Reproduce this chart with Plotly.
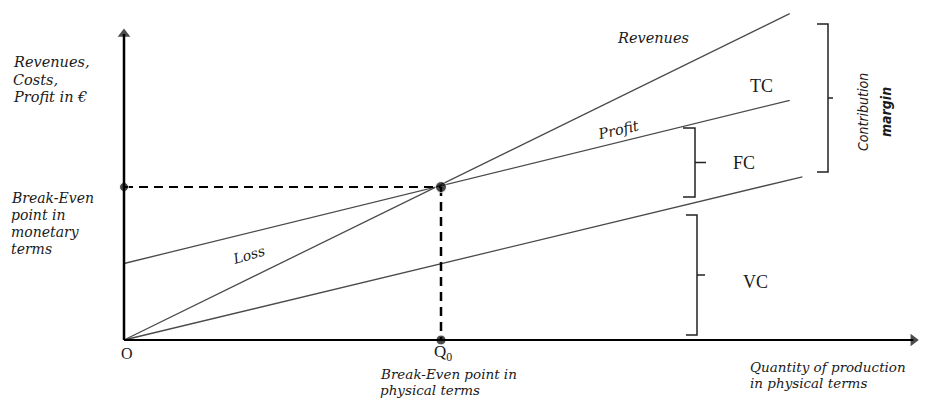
import plotly.graph_objects as go

# Break-even chart values (quantity on x, money in € on y)
rev_q = [0, 21.0]
rev_v = [0, 64.0]
tc_q = [0, 21.0]
tc_v = [15.0, 47.0]
vc_q = [0, 21.4]
vc_v = [0, 32.0]
q0 = 10.0
be_value = 30.0

# axis extents
x_axis_end = 24.9
y_axis_end = 60.0

W, H = 930, 398
LINE = "#4a4a4a"
TXT = "#1a1a1a"
SERIF_IT = "DejaVu Serif"


def paper(x, y):
    # pixel position -> paper coordinates (margins are zero)
    return x / W, 1 - y / H


fig = go.Figure()

# cost / revenue lines
for q, v in [(rev_q, rev_v), (tc_q, tc_v), (vc_q, vc_v)]:
    fig.add_trace(go.Scatter(x=q, y=v, mode="lines", line=dict(color=LINE, width=1.3),
                             hoverinfo="skip", showlegend=False))

# dashed guides to the break-even point
fig.add_trace(go.Scatter(x=[0, q0], y=[be_value, be_value], mode="lines",
                         line=dict(color="black", width=2, dash="9px,6px"), showlegend=False))
fig.add_trace(go.Scatter(x=[q0, q0], y=[be_value, 0], mode="lines",
                         line=dict(color="black", width=2.5, dash="9px,6px"), showlegend=False))
fig.add_trace(go.Scatter(x=[0, q0, q0], y=[be_value, be_value, 0], mode="markers",
                         marker=dict(color="black", size=[9, 11, 10]), showlegend=False))

# axes with arrow heads
fig.add_trace(go.Scatter(x=[0, 0], y=[0, y_axis_end], mode="lines+markers",
                         line=dict(color="black", width=2.5),
                         marker=dict(symbol="triangle-up", size=[0, 11], color="black",
                                     angleref="previous", line=dict(width=0)),
                         hoverinfo="skip", showlegend=False))
fig.add_trace(go.Scatter(x=[0, x_axis_end], y=[0, 0], mode="lines+markers",
                         line=dict(color="black", width=1.8),
                         marker=dict(symbol="triangle-up", size=[0, 11], color="black",
                                     angleref="previous", line=dict(width=0)),
                         hoverinfo="skip", showlegend=False))


# brackets (FC, VC, contribution margin)
def bracket(x_left, x_right, y_top, y_bot, tick):
    y_mid = (y_top + y_bot) / 2
    pts = [(x_left, y_top), (x_right, y_top), (x_right, y_bot), (x_left, y_bot)]
    p = [paper(*pt) for pt in pts]
    path = "M {} {} L {} {} L {} {} L {} {}".format(*[c for xy in p for c in xy])
    fig.add_shape(type="path", path=path, xref="paper", yref="paper",
                  line=dict(color="#222", width=1.5))
    a = paper(x_right, y_mid)
    b = paper(x_right + tick, y_mid)
    fig.add_shape(type="line", x0=a[0], y0=a[1], x1=b[0], y1=b[1], xref="paper", yref="paper",
                  line=dict(color="#222", width=1.5))


bracket(683, 695, 128, 197, 11)
bracket(686, 697, 215, 335, 8)
bracket(817, 828, 24, 172, 5)


def label(text, x, y, size=15, family=SERIF_IT, italic=True, angle=0, xanchor="left", color=TXT):
    px, py = paper(x, y)
    fig.add_annotation(x=px, y=py, xref="paper", yref="paper", text=text, showarrow=False,
                       xanchor=xanchor, yanchor="middle", align="left", textangle=angle,
                       font=dict(family=family, size=size, color=color,
                                 style="italic" if italic else "normal"))


def label_lines(lines, x, ys, **kw):
    for t, y in zip(lines, ys):
        label(t, x, y, **kw)


label_lines(["Revenues,", "Costs,", "Profit in €"], 11, [62, 80, 97], size=14.5)
label_lines(["Break-Even", "point in", "monetary", "terms"], 9, [198, 215, 232, 249], size=14)
label_lines(["Break-Even point in", "physical terms"], 378, [374, 390], size=13.5)
label_lines(["Quantity of production", "in physical terms"], 748, [367, 383], size=13.5)
label("Revenues", 653, 38, size=14.5, xanchor="center")
label("Profit", 618, 130, size=14.5, xanchor="center", angle=-13)
label("Loss", 248, 255, size=14, xanchor="center", angle=-16)
label("TC", 761, 86, size=18, family="Liberation Serif", italic=False, xanchor="center")
label("FC", 744, 163, size=18, family="Liberation Serif", italic=False, xanchor="center")
label("VC", 755, 282, size=18, family="Liberation Serif", italic=False, xanchor="center")
label("O", 127, 353, size=16, family="Liberation Serif", italic=False, xanchor="center")
label("Q<sub>0</sub>", 443, 353, size=17, family="Liberation Serif", italic=False, xanchor="center")
label("Contribution", 863, 112, size=14, family="DejaVu Sans Condensed, sans-serif",
      angle=-90, xanchor="center")
label("<b>margin</b>", 886, 112, size=14, family="DejaVu Sans Condensed, sans-serif",
      angle=-90, xanchor="center")

x_px0, y_px0 = 124, 340
sx, sy = 31.7, 5.1
fig.update_layout(
    width=W, height=H,
    margin=dict(l=0, r=0, t=0, b=0),
    plot_bgcolor="white", paper_bgcolor="white",
    xaxis=dict(range=[-x_px0 / sx, (W - x_px0) / sx], visible=False, fixedrange=True),
    yaxis=dict(range=[-(H - y_px0) / sy, y_px0 / sy], visible=False, fixedrange=True),
    showlegend=False,
)

fig.write_html("out.html", config={"displayModeBar": False},
               post_script="document.body.style.margin='0';")
